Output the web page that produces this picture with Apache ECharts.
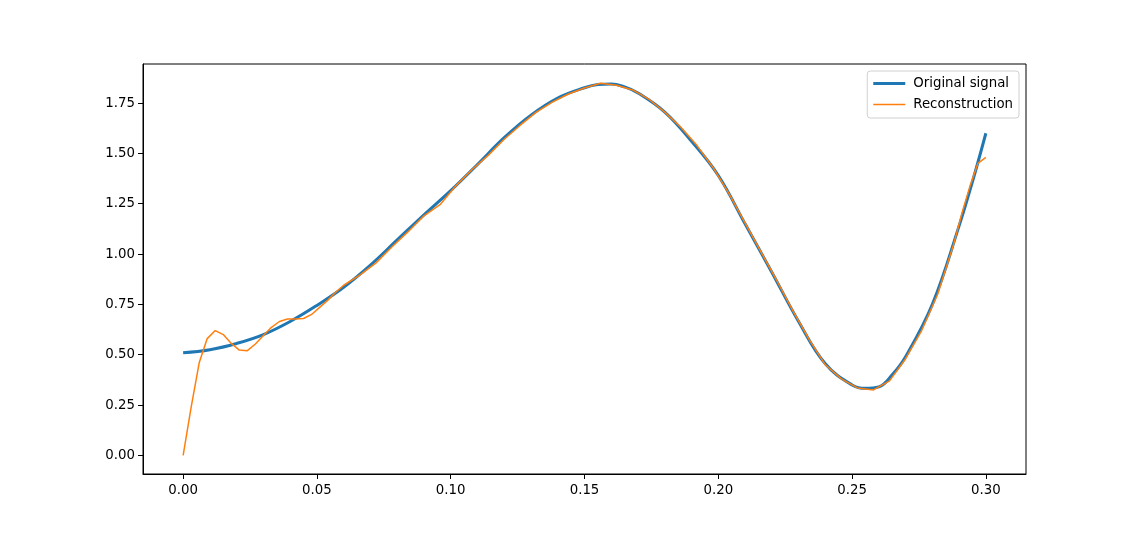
<!DOCTYPE html>
<html>
<head>
<meta charset="utf-8">
<script src="https://cdn.jsdelivr.net/npm/echarts@6/dist/echarts.min.js"></script>
<style>
html,body{margin:0;padding:0;background:#fff;}
#chart{width:1140px;height:533px;}
</style>
</head>
<body>
<div id="chart"></div>
<script>
// Original signal: time values and amplitudes
const originalT = [0.000,0.010,0.020,0.030,0.040,0.050,0.060,0.070,0.080,0.090,0.100,0.110,0.120,0.130,0.140,0.150,0.155,0.160,0.165,0.170,0.180,0.190,0.200,0.210,0.220,0.230,0.240,0.250,0.255,0.260,0.265,0.270,0.280,0.290,0.295,0.300];
const originalV = [0.510,0.525,0.556,0.600,0.665,0.745,0.835,0.945,1.070,1.195,1.315,1.445,1.578,1.690,1.775,1.826,1.842,1.845,1.830,1.800,1.705,1.560,1.390,1.150,0.910,0.665,0.455,0.350,0.333,0.340,0.400,0.490,0.750,1.140,1.360,1.600];

// Reconstruction
const reconT = [0.000,0.003,0.006,0.009,0.012,0.015,0.018,0.021,0.024,0.027,0.030,0.033,0.036,0.039,0.042,0.045,0.048,0.051,0.054,0.057,0.060,0.066,0.072,0.078,0.084,0.090,0.096,0.102,0.108,0.114,0.120,0.126,0.132,0.138,0.144,0.150,0.156,0.162,0.168,0.174,0.180,0.186,0.192,0.198,0.204,0.210,0.216,0.222,0.228,0.234,0.240,0.246,0.252,0.258,0.264,0.270,0.276,0.282,0.288,0.291,0.294,0.297,0.300];
const reconV = [0.000,0.240,0.460,0.580,0.620,0.600,0.556,0.523,0.520,0.553,0.595,0.636,0.665,0.677,0.677,0.680,0.700,0.735,0.770,0.810,0.845,0.895,0.955,1.035,1.110,1.190,1.245,1.340,1.420,1.490,1.570,1.640,1.705,1.755,1.795,1.825,1.848,1.838,1.815,1.770,1.705,1.630,1.540,1.430,1.300,1.155,1.010,0.865,0.715,0.575,0.450,0.380,0.335,0.325,0.370,0.480,0.620,0.800,1.050,1.200,1.335,1.450,1.480];

const xTicks = [0, 0.05, 0.10, 0.15, 0.20, 0.25, 0.30];
const yTicks = [0, 0.25, 0.50, 0.75, 1.00, 1.25, 1.50, 1.75];

const seriesNames = ['Original signal', 'Reconstruction'];

const chart = echarts.init(document.getElementById('chart'), null, {renderer: 'canvas'});
const font = 'DejaVu Sans';
const fs = 13.33;

chart.setOption({
  animation: false,
  backgroundColor: '#fff',
  grid: {
    left: 143, right: 114, top: 64, bottom: 59,
    show: true, borderColor: '#000', borderWidth: 1, backgroundColor: 'transparent'
  },
  legend: {
    orient: 'vertical',
    right: 121, top: 71,
    itemWidth: 32, itemHeight: 14, itemGap: 8,
    padding: [6, 6, 7, 6],
    borderColor: '#d0d0d0', borderWidth: 1, borderRadius: 3,
    backgroundColor: 'rgba(255,255,255,0.8)',
    textStyle: {fontFamily: font, fontSize: fs, color: '#000', padding: [0, 0, 0, 3]},
    data: [
      {name: seriesNames[0], icon: 'path://M0,0H32V3H0Z', itemStyle: {color: '#1f77b4'}},
      {name: seriesNames[1], icon: 'path://M0,0H32V1.5H0Z', itemStyle: {color: '#ff7f0e'}}
    ]
  },
  xAxis: {
    type: 'value',
    min: -0.015, max: 0.315,
    axisLine: {show: true, onZero: false, lineStyle: {color: '#000', width: 1}},
    splitLine: {show: false},
    axisTick: {show: true, customValues: xTicks, length: 5, lineStyle: {color: '#000'}},
    axisLabel: {
      customValues: xTicks, margin: 10,
      fontFamily: font, fontSize: fs, color: '#000',
      formatter: v => v.toFixed(2)
    }
  },
  yAxis: {
    type: 'value',
    min: -0.0925, max: 1.944,
    axisLine: {show: true, onZero: false, lineStyle: {color: '#000', width: 1}},
    splitLine: {show: false},
    axisTick: {show: true, customValues: yTicks, length: 5, lineStyle: {color: '#000'}},
    axisLabel: {
      customValues: yTicks, margin: 8,
      fontFamily: font, fontSize: fs, color: '#000',
      formatter: v => v.toFixed(2)
    }
  },
  series: [
    {
      name: seriesNames[0], type: 'line', symbol: 'none', smooth: 0.4,
      lineStyle: {color: '#1f77b4', width: 3}, itemStyle: {color: '#1f77b4'},
      data: originalT.map((t, i) => [t, originalV[i]])
    },
    {
      name: seriesNames[1], type: 'line', symbol: 'none', smooth: false,
      lineStyle: {color: '#ff7f0e', width: 1.5}, itemStyle: {color: '#ff7f0e'},
      data: reconT.map((t, i) => [t, reconV[i]])
    }
  ]
});
</script>
</body>
</html>
